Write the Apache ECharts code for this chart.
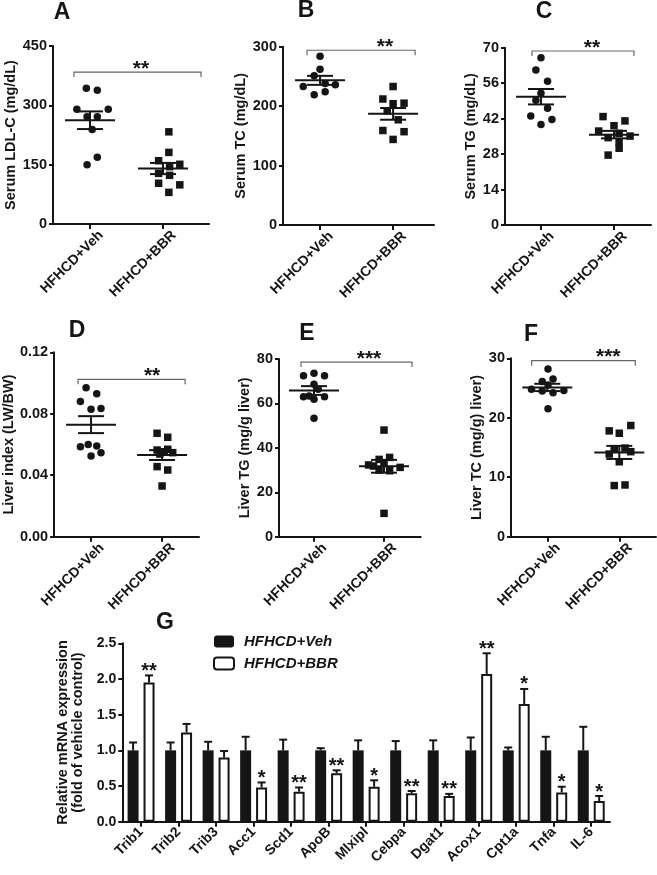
<!DOCTYPE html>
<html>
<head>
<meta charset="utf-8">
<script src="https://cdn.jsdelivr.net/npm/echarts@6/dist/echarts.min.js"></script>
<style>html,body{margin:0;padding:0;background:#fff}#c{width:657px;height:875px}</style>
</head>
<body>
<div id="c"></div>
<script>
// ---------- DATA ----------
const groups = ['HFHCD+Veh', 'HFHCD+BBR'];

// A: Serum LDL-C (mg/dL)
const ldlVeh = [343, 338, 290, 290, 271, 271, 239, 169, 150];
const ldlVehJit = [-0.05, 0.10, -0.18, 0.25, -0.04, 0.10, 0.03, 0.10, -0.04];
const ldlBbr = [233, 181, 160, 151, 145, 128, 123, 103, 99, 80];
const ldlBbrJit = [0.08, 0.08, -0.06, 0.23, 0.09, -0.06, 0.09, -0.06, 0.23, 0.08];

// B: Serum TC (mg/dL)
const tcVeh = [284, 262, 251, 233, 238, 236, 224, 219];
const tcVehJit = [0, 0, -0.08, -0.23, 0.07, 0.21, 0.07, -0.08];
const tcBbr = [233, 212, 204, 205, 192, 177, 159, 157, 144];
const tcBbrJit = [0, -0.14, 0, 0.15, -0.08, 0.07, -0.14, 0.15, 0];

// C: Serum TG (mg/dL)
const tgVeh = [66.0, 61.2, 56.8, 52.0, 49.3, 46.1, 43.0, 41.7, 39.7];
const tgVehJit = [0, -0.07, 0.09, 0, -0.07, 0.09, -0.14, 0.15, 0];
const tgBbr = [42.8, 41.1, 39.2, 37.1, 34.5, 36.2, 35.1, 32.9, 30.3, 27.6];
const tgBbrJit = [-0.15, 0.15, 0, -0.21, -0.08, 0.07, 0.22, 0.07, 0.07, -0.08];

// D: Liver index (LW/BW)
const liVeh = [0.097, 0.093, 0.088, 0.083, 0.0835, 0.0586, 0.060, 0.059, 0.0525, 0.0547];
const liVehJit = [-0.07, 0.08, -0.15, 0, 0.14, -0.15, -0.04, 0.08, 0, 0.14];
const liBbr = [0.0673, 0.0647, 0.0564, 0.0569, 0.0553, 0.0547, 0.0538, 0.0456, 0.0434, 0.0330];
const liBbrJit = [-0.07, 0.08, -0.07, 0.08, 0.03, 0.15, -0.03, -0.07, 0.08, 0];

// E: Liver TG (mg/g liver)
const ltgVeh = [72.5, 73.6, 72.5, 68.6, 66.4, 63.0, 63.3, 61.9, 63.0, 53.3];
const ltgVehJit = [-0.15, 0, 0.15, 0, 0.06, -0.15, -0.07, 0, 0.15, 0];
const ltgBbr = [48.0, 32.3, 34.8, 35.7, 30.0, 29.7, 31.2, 33.0, 31.8, 10.5];
const ltgBbrJit = [0, -0.22, -0.07, 0.08, -0.07, 0.08, 0.23, 0, -0.15, 0];

// F: Liver TC (mg/g) liver)
const ltcVeh = [28.2, 26.1, 26.5, 24.8, 24.5, 24.2, 24.6, 25.5, 21.5];
const ltcVehJit = [0.01, -0.07, 0.08, -0.22, -0.07, 0.08, 0.23, 0.01, 0.01];
const ltcBbr = [18.7, 17.8, 17.4, 13.9, 14.3, 12.6, 8.6, 8.7, 14.8, 14.9];
const ltcBbrJit = [0.16, -0.14, 0, -0.14, 0.16, 0, -0.07, 0.08, -0.07, 0.08];

// G: relative mRNA expression
const genes = ['Trib1','Trib2','Trib3','Acc1','Scd1','ApoB','Mlxipl','Cebpa','Dgat1','Acox1','Cpt1a','Tnfa','IL-6'];
const vehMean = [1, 1, 1, 1, 1, 1, 1, 1, 1, 1, 1, 1, 1];
const vehErr  = [0.11, 0.11, 0.12, 0.19, 0.15, 0.03, 0.14, 0.13, 0.14, 0.18, 0.04, 0.19, 0.33];
const bbrMean = [1.95, 1.25, 0.90, 0.48, 0.42, 0.68, 0.49, 0.40, 0.36, 2.07, 1.65, 0.41, 0.29];
const bbrErr  = [0.10, 0.12, 0.09, 0.07, 0.06, 0.04, 0.09, 0.03, 0.03, 0.29, 0.21, 0.08, 0.07];
const bbrSig  = ['**', '', '', '*', '**', '**', '*', '**', '**', '**', '*', '*', '*'];

const panelLetters = ['A', 'B', 'C', 'D', 'E', 'F'];
const yNames = ['Serum LDL-C (mg/dL)', 'Serum TC (mg/dL)', 'Serum TG (mg/dL)',
                'Liver index (LW/BW)', 'Liver TG (mg/g liver)', 'Liver TC (mg/g) liver)'];
const yMax = [450, 300, 70, 0.12, 80, 30];
const yInterval = [150, 100, 14, 0.04, 20, 10];
const yDecimals = [0, 0, 0, 2, 0, 0];
const sigLabels = ['**', '**', '**', '**', '***', '***'];
const bracketLevel = [384, 294, 68.7, 0.1024, 78.6, 29.6];

const vehSets = [ldlVeh, tcVeh, tgVeh, liVeh, ltgVeh, ltcVeh];
const vehJits = [ldlVehJit, tcVehJit, tgVehJit, liVehJit, ltgVehJit, ltcVehJit];
const bbrSets = [ldlBbr, tcBbr, tgBbr, liBbr, ltgBbr, ltcBbr];
const bbrJits = [ldlBbrJit, tcBbrJit, tgBbrJit, liBbrJit, ltgBbrJit, ltcBbrJit];

// ---------- LAYOUT (pixels) ----------
const layout = [
  {left: 53,  top: 46,   width: 156,   height: 178,   xmin: 0.493, xmax: 2.630, nameGap: 32, letter: [62, 13],  br: [-16, 38], star: 51},
  {left: 283, top: 46.7, width: 151,   height: 178.3, xmin: 0.493, xmax: 2.560, nameGap: 32, letter: [306, 11], br: [-13, 22], star: 65},
  {left: 505, top: 47.7, width: 146,   height: 177.3, xmin: 0.507, xmax: 2.507, nameGap: 25, letter: [544, 12], br: [-9, 20],  star: 51},
  {left: 52.7,top: 352.3,width: 146.3, height: 184.4, xmin: 0.480, xmax: 2.520, nameGap: 38, letter: [77, 331], br: [-13, 23], star: 61},
  {left: 279, top: 359,  width: 141.7, height: 177.7, xmin: 0.500, xmax: 2.524, nameGap: 23, letter: [307, 334],br: [-13, 28], star: 55},
  {left: 511, top: 358.3,width: 145,   height: 178.4, xmin: 0.496, xmax: 2.510, nameGap: 23, letter: [531, 335],br: [-15.6,16],star: 61}
];
const LABEL_SHIFT = 0.15;   // rotated group labels sit slightly right of their ticks
const FONT = 'Liberation Sans, Arial, Helvetica, sans-serif';
const INK = '#151515';

function mean(a) { return a.reduce((s, v) => s + v, 0) / a.length; }
function sem(a) {
  const m = mean(a);
  const v = a.reduce((s, x) => s + (x - m) * (x - m), 0) / (a.length - 1);
  return Math.sqrt(v / a.length);
}

const grid = [], xAxis = [], yAxis = [], series = [], graphic = [];

layout.forEach((l, i) => {
  grid.push({left: l.left, top: l.top, width: l.width, height: l.height});
  xAxis.push({
    type: 'value', gridIndex: i, min: l.xmin, max: l.xmax,
    axisLine: {show: true, onZero: false, lineStyle: {color: INK, width: 2}},
    splitLine: {show: false},
    axisTick: {show: true, customValues: [1, 2], length: 5, lineStyle: {color: INK, width: 2}},
    axisLabel: {show: true, customValues: [1 + LABEL_SHIFT, 2 + LABEL_SHIFT],
      formatter: v => groups[Math.round(v) - 1],
      rotate: 45, margin: 9, fontFamily: FONT, fontWeight: 'bold', fontSize: 14, color: INK}
  });
  yAxis.push({
    type: 'value', gridIndex: i, min: 0, max: yMax[i], interval: yInterval[i],
    name: yNames[i], nameLocation: 'middle', nameGap: l.nameGap,
    nameTextStyle: {fontFamily: FONT, fontWeight: 'bold', fontSize: 14.5, color: INK},
    axisLine: {show: true, lineStyle: {color: INK, width: 2}},
    axisTick: {show: true, length: 4, lineStyle: {color: INK, width: 2}},
    splitLine: {show: false},
    axisLabel: {formatter: v => v.toFixed(yDecimals[i]), margin: 6,
      fontFamily: FONT, fontWeight: 'bold', fontSize: 14.5, color: INK}
  });
  series.push({
    type: 'scatter', name: 'veh' + i, xAxisIndex: i, yAxisIndex: i,
    symbol: 'circle', symbolSize: 7.5, itemStyle: {color: INK, opacity: 1}, silent: true,
    data: vehSets[i].map((v, k) => [1 + vehJits[i][k], v])
  });
  series.push({
    type: 'scatter', name: 'bbr' + i, xAxisIndex: i, yAxisIndex: i,
    symbol: 'rect', symbolSize: 7.5, itemStyle: {color: INK, opacity: 1}, silent: true,
    data: bbrSets[i].map((v, k) => [2 + bbrJits[i][k], v])
  });
  series.push({
    type: 'custom', name: 'msem' + i, xAxisIndex: i, yAxisIndex: i, z: 5, silent: true,
    data: [[1, mean(vehSets[i]), sem(vehSets[i])], [2, mean(bbrSets[i]), sem(bbrSets[i])]],
    renderItem: (params, api) => {
      const x = api.value(0), m = api.value(1), s = api.value(2);
      const c = api.coord([x, m]), up = api.coord([x, m + s]), lo = api.coord([x, m - s]);
      const ls = {stroke: INK, lineWidth: 2};
      return {type: 'group', children: [
        {type: 'line', shape: {x1: c[0] - 25, y1: c[1], x2: c[0] + 25, y2: c[1]}, style: ls},
        {type: 'line', shape: {x1: c[0], y1: up[1], x2: c[0], y2: lo[1]}, style: ls},
        {type: 'line', shape: {x1: c[0] - 13, y1: up[1], x2: c[0] + 13, y2: up[1]}, style: ls},
        {type: 'line', shape: {x1: c[0] - 13, y1: lo[1], x2: c[0] + 13, y2: lo[1]}, style: ls}
      ]};
    }
  });
  series.push({
    type: 'custom', name: 'sig' + i, xAxisIndex: i, yAxisIndex: i, silent: true,
    data: [[1, bracketLevel[i]]],
    renderItem: (params, api) => {
      const lv = api.value(1);
      const p1 = api.coord([1, lv]), p2 = api.coord([2, lv]);
      const x1 = p1[0] + l.br[0], x2 = p2[0] + l.br[1], y = p1[1];
      return {type: 'group', children: [
        {type: 'polyline', shape: {points: [[x1, y + 5], [x1, y], [x2, y], [x2, y + 5]]},
          style: {stroke: '#666', lineWidth: 1.2, fill: null}},
        {type: 'text', style: {text: sigLabels[i], x: p1[0] + l.star, y: y - 3,
          font: 'bold 21px ' + FONT, fill: INK, align: 'center', verticalAlign: 'middle',
          textAlign: 'center', textVerticalAlign: 'middle'}}
      ]};
    }
  });
  graphic.push({type: 'text', x: l.letter[0], y: l.letter[1],
    style: {text: panelLetters[i], font: 'bold 23px ' + FONT, fill: INK,
      align: 'center', verticalAlign: 'middle', textAlign: 'center', textVerticalAlign: 'middle'}});
});

// ---------- Panel G ----------
const gi = 6;
const BW = 11, BGAP = 0.45;
const barOff = (BW + BW * BGAP) / 2;
grid.push({left: 122.3, top: 643.3, width: 487.7, height: 178.4});
xAxis.push({
  type: 'category', gridIndex: gi, data: genes,
  axisLine: {show: true, lineStyle: {color: INK, width: 2}},
  axisTick: {show: true, alignWithLabel: true, length: 5, lineStyle: {color: INK, width: 2}},
  axisLabel: {rotate: 45, margin: 8, interval: 0, fontFamily: FONT, fontWeight: 'bold', fontSize: 14, color: INK}
});
yAxis.push({
  type: 'value', gridIndex: gi, min: 0, max: 2.5, interval: 0.5,
  name: 'Relative mRNA expression\n(fold of vehicle control)', nameLocation: 'middle', nameGap: 27,
  nameTextStyle: {fontFamily: FONT, fontWeight: 'bold', fontSize: 14.5, lineHeight: 15, color: INK},
  axisLine: {show: true, lineStyle: {color: INK, width: 2}},
  axisTick: {show: true, length: 4, lineStyle: {color: INK, width: 2}},
  splitLine: {show: false},
  axisLabel: {formatter: v => v.toFixed(1), margin: 6, fontFamily: FONT, fontWeight: 'bold', fontSize: 14, color: INK}
});
series.push({
  type: 'bar', name: 'HFHCD+Veh', xAxisIndex: gi, yAxisIndex: gi, barWidth: BW, barGap: (BGAP * 100) + '%',
  itemStyle: {color: INK}, data: vehMean, silent: true
});
series.push({
  type: 'bar', name: 'HFHCD+BBR', xAxisIndex: gi, yAxisIndex: gi, barWidth: BW, barGap: (BGAP * 100) + '%',
  itemStyle: {color: '#fff', borderColor: INK, borderWidth: 2}, data: bbrMean, silent: true
});
function errRender(side, sigArr) {
  return (params, api) => {
    const i = api.value(0), v = api.value(1), e = api.value(2);
    const top = api.coord([i, v]), hi = api.coord([i, v + e]);
    const x = top[0] + side * barOff;
    const ls = {stroke: INK, lineWidth: 2};
    const ch = [
      {type: 'line', shape: {x1: x, y1: top[1], x2: x, y2: hi[1]}, style: ls},
      {type: 'line', shape: {x1: x - 4, y1: hi[1], x2: x + 4, y2: hi[1]}, style: ls}
    ];
    const s = sigArr ? sigArr[params.dataIndex] : '';
    if (s) ch.push({type: 'text', style: {text: s, x: x, y: hi[1] - 4,
      font: 'bold 20px ' + FONT, fill: INK, align: 'center', verticalAlign: 'middle',
      textAlign: 'center', textVerticalAlign: 'middle'}});
    return {type: 'group', children: ch};
  };
}
series.push({
  type: 'custom', name: 'errVeh', xAxisIndex: gi, yAxisIndex: gi, silent: true, z: 3,
  data: genes.map((g, k) => [k, vehMean[k], vehErr[k]]),
  renderItem: errRender(-1, null)
});
series.push({
  type: 'custom', name: 'errBbr', xAxisIndex: gi, yAxisIndex: gi, silent: true, z: 3,
  data: genes.map((g, k) => [k, bbrMean[k], bbrErr[k]]),
  renderItem: errRender(1, bbrSig)
});
graphic.push({type: 'text', x: 165, y: 623,
  style: {text: 'G', font: 'bold 23px ' + FONT, fill: INK,
    align: 'center', verticalAlign: 'middle', textAlign: 'center', textVerticalAlign: 'middle'}});

const chart = echarts.init(document.getElementById('c'), null, {renderer: 'canvas'});
chart.setOption({
  animation: false,
  backgroundColor: '#fff',
  grid, xAxis, yAxis, series, graphic,
  legend: {
    data: ['HFHCD+Veh', 'HFHCD+BBR'], orient: 'vertical', left: 208, top: 629,
    itemWidth: 20, itemHeight: 12, itemGap: 7, selectedMode: false,
    textStyle: {fontFamily: FONT, fontWeight: 'bold', fontStyle: 'italic', fontSize: 15, color: INK,
      padding: [0, 0, 0, 5]}
  }
});
</script>
</body>
</html>
